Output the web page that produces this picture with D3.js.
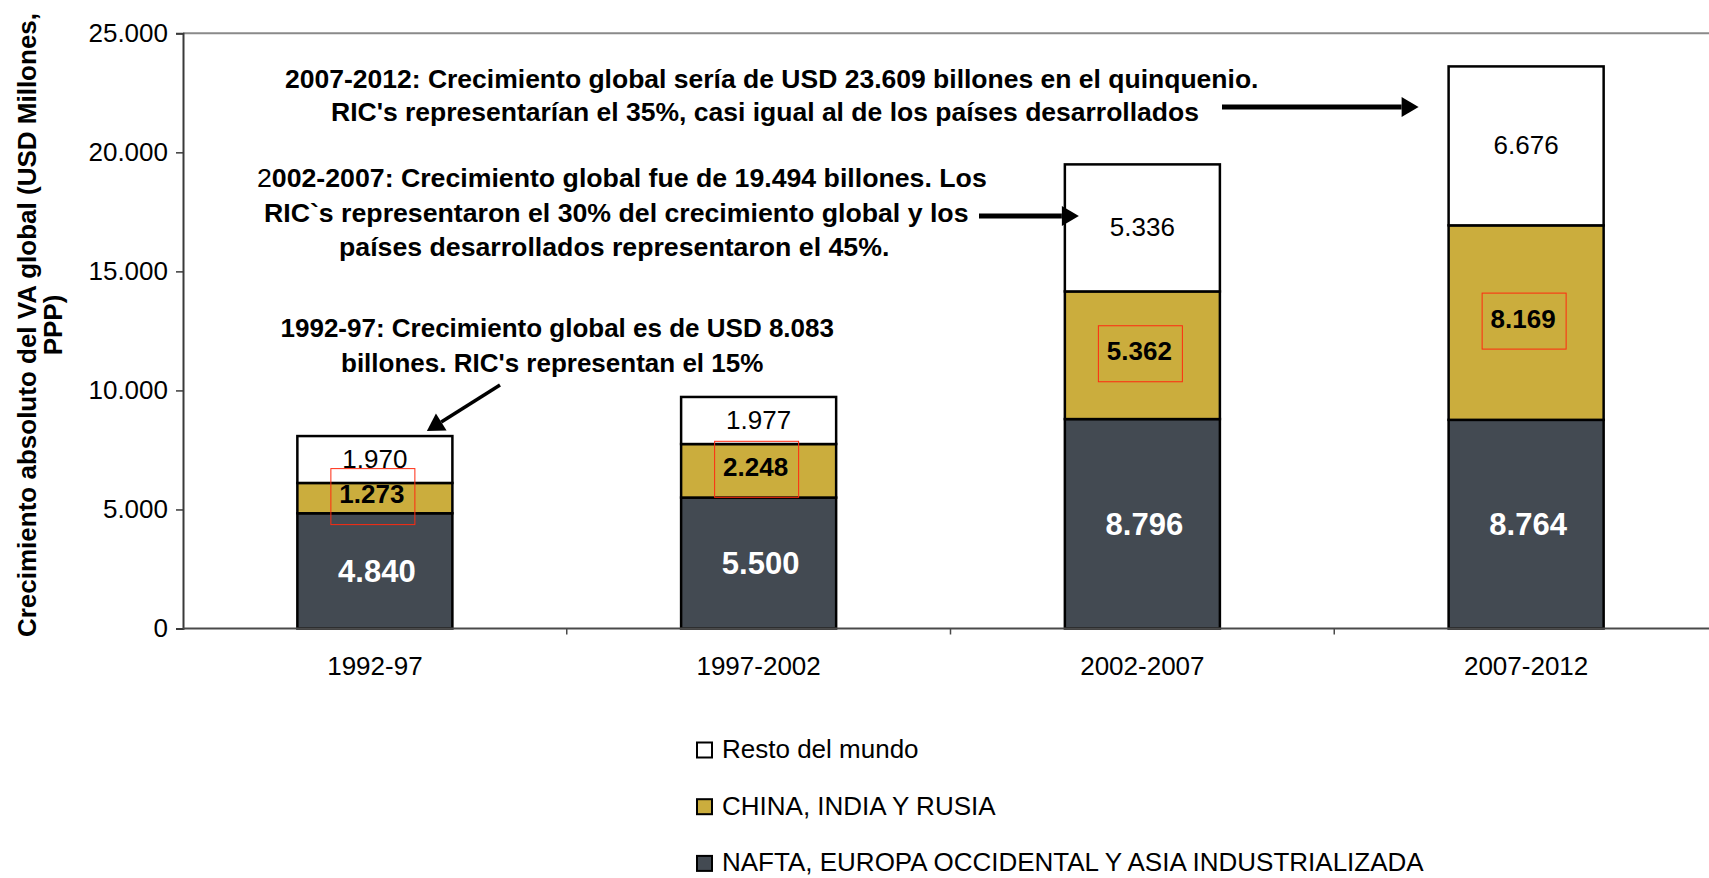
<!DOCTYPE html>
<html>
<head>
<meta charset="utf-8">
<script src="https://cdn.jsdelivr.net/npm/d3@7/dist/d3.min.js"></script>
<style>
  html, body { margin: 0; padding: 0; background: #ffffff; }
  svg { display: block; font-family: "Liberation Sans", Arial, sans-serif; }
</style>
</head>
<body>
<svg id="chart" width="1709" height="878"></svg>
<script>
// Periods on the x axis
const categories = ["1992-97", "1997-2002", "2002-2007", "2007-2012"];

// Absolute growth of global value added by region (USD millions, PPP)
const naftaValues = [4840, 5500, 8796, 8764];
const ricValues   = [1273, 2248, 5362, 8169];
const restoValues = [1970, 1977, 5336, 6676];

const seriesKeys   = ["nafta", "ric", "resto"];
const seriesLabels = ["NAFTA, EUROPA OCCIDENTAL Y ASIA INDUSTRIALIZADA", "CHINA, INDIA Y RUSIA", "Resto del mundo"];
const seriesColors = ["#434a52", "#cbad3d", "#ffffff"];

const yTicks = [0, 5000, 10000, 15000, 20000, 25000];

const yTitle = ["Crecimiento absoluto del VA global (USD Millones,", "PPP)"];

const notes2012 = [
  "2007-2012: Crecimiento global sería de USD 23.609 billones en el quinquenio.",
  "RIC's representarían el 35%, casi igual al de los países desarrollados"
];
const notes2007 = [
  "2002-2007: Crecimiento global fue de 19.494 billones. Los",
  "RIC`s representaron el 30% del crecimiento global y los",
  "países desarrollados representaron el 45%."
];
const notes1997 = [
  "1992-97: Crecimiento global es de USD 8.083",
  "billones. RIC's representan el 15%"
];

// ---------------------------------------------------------------
const rows = categories.map((c, i) => ({
  cat: c, nafta: naftaValues[i], ric: ricValues[i], resto: restoValues[i]
}));

const svg = d3.select("#chart");
const FONT = 26;

const locale = d3.formatLocale({ decimal: ",", thousands: ".", grouping: [3], currency: ["", ""] });
const fmt = locale.format(",");

const x = d3.scaleBand().domain(categories).range([183, 1718]).paddingInner(0).paddingOuter(0);
const y = d3.scaleLinear().domain([0, 25000]).range([628.5, 33.3]);
const barW = x.bandwidth() * 0.404;
const barX = c => x(c) + (x.bandwidth() - barW) / 2;
const mid = c => x(c) + x.bandwidth() / 2;

const stack = d3.stack().keys(seriesKeys)(rows);

// top frame line of the plot area
svg.append("line")
  .attr("x1", x.range()[0]).attr("x2", 1709)
  .attr("y1", y(25000)).attr("y2", y(25000))
  .attr("stroke", "#8a8a8a").attr("stroke-width", 2);

// stacked bars
const layers = svg.append("g").selectAll("g")
  .data(stack).join("g")
  .attr("fill", (d, i) => seriesColors[i]);

layers.selectAll("rect")
  .data(d => d.map(s => ({ s, cat: s.data.cat })))
  .join("rect")
  .attr("x", d => barX(d.cat))
  .attr("width", barW)
  .attr("y", d => y(d.s[1]))
  .attr("height", d => y(d.s[0]) - y(d.s[1]))
  .attr("stroke", "#000")
  .attr("stroke-width", 2.5);

// Y axis
const yAxis = svg.append("g")
  .attr("transform", `translate(${x.range()[0]},0)`)
  .call(d3.axisLeft(y).tickValues(yTicks).tickSize(7).tickPadding(8)
    .tickFormat(d => fmt(d)));
yAxis.select(".domain").attr("stroke", "#3a3a3a").attr("stroke-width", 2);
yAxis.selectAll(".tick line").attr("stroke", "#3a3a3a").attr("stroke-width", 1.5);
yAxis.selectAll("text").attr("font-size", FONT).attr("fill", "#000")
  .attr("font-family", "Liberation Sans, Arial, sans-serif");

// X axis
const xAxis = svg.append("g")
  .attr("transform", `translate(0,${y(0)})`)
  .call(d3.axisBottom(x).tickSize(0).tickPadding(28));
xAxis.select(".domain").remove();
xAxis.selectAll("text").attr("font-size", FONT).attr("fill", "#000")
  .attr("font-family", "Liberation Sans, Arial, sans-serif");
svg.append("line")
  .attr("x1", x.range()[0]).attr("x2", 1709)
  .attr("y1", y(0)).attr("y2", y(0))
  .attr("stroke", "#4a4a4a").attr("stroke-width", 2);
svg.append("g").selectAll("line")
  .data(categories.slice(1))
  .join("line")
  .attr("x1", c => x(c)).attr("x2", c => x(c))
  .attr("y1", y(0)).attr("y2", y(0) + 6)
  .attr("stroke", "#4a4a4a").attr("stroke-width", 1.5);

// value labels
const labels = svg.append("g").attr("text-anchor", "middle");
rows.forEach(r => {
  const cx = mid(r.cat);
  const n0 = 0, n1 = r.nafta;
  const c0 = n1, c1 = n1 + r.ric;
  const w0 = c1, w1 = c1 + r.resto;

  labels.append("text")
    .attr("x", cx + 2).attr("y", y((n0 + n1) / 2) + 11)
    .attr("font-size", 31).attr("font-weight", "bold").attr("fill", "#fff")
    .text(fmt(r.nafta));

  const cm = y((c0 + c1) / 2);
  labels.append("rect")
    .attr("x", cx - 2 - 42).attr("y", cm - 1.5 - 28)
    .attr("width", 84).attr("height", 56)
    .attr("fill", "none").attr("stroke", "#ff2a10").attr("stroke-width", 1);
  labels.append("text")
    .attr("x", cx - 3).attr("y", cm + 5)
    .attr("font-size", FONT).attr("font-weight", "bold").attr("fill", "#000")
    .text(fmt(r.ric));

  labels.append("text")
    .attr("x", cx).attr("y", y((w0 + w1) / 2) + 8)
    .attr("font-size", FONT).attr("fill", "#000")
    .text(fmt(r.resto));
});

// Y axis title
const yt = svg.append("g").attr("font-size", FONT).attr("font-weight", "bold").attr("text-anchor", "middle");
yt.append("text").attr("transform", "translate(36,325) rotate(-90)").text(yTitle[0]);
yt.append("text").attr("transform", "translate(62,325) rotate(-90)").text(yTitle[1]);

// annotations
const ann = svg.append("g").attr("font-weight", "bold").attr("fill", "#000");
const place = (lines, xs, ys, size) => lines.forEach((t, i) =>
  ann.append("text").attr("x", xs[i]).attr("y", ys[i]).attr("font-size", size).text(t));

place(notes2012, [285, 331], [88, 121], 26.5);
// first line of 2002-2007 note: leading digit set in regular weight
const l0 = ann.append("text").attr("x", 257).attr("y", 187).attr("font-size", 26.7);
l0.append("tspan").attr("font-weight", "normal").text(notes2007[0].slice(0, 1));
l0.append("tspan").text(notes2007[0].slice(1));
place(notes2007.slice(1), [264, 339], [222, 256], 26.7);
place(notes1997, [280.5, 341], [336.5, 372], FONT);

// arrows
function arrow(x1, y1, x2, y2, w) {
  const a = Math.atan2(y2 - y1, x2 - x1);
  const L = 17, H = 10;
  const bx = x2 - L * Math.cos(a), by = y2 - L * Math.sin(a);
  svg.append("line")
    .attr("x1", x1).attr("y1", y1).attr("x2", bx).attr("y2", by)
    .attr("stroke", "#000").attr("stroke-width", w);
  const px = -Math.sin(a) * H, py = Math.cos(a) * H;
  svg.append("path")
    .attr("d", `M${x2},${y2}L${bx + px},${by + py}L${bx - px},${by - py}Z`)
    .attr("fill", "#000");
}
const b4 = barX(categories[3]);
const b3 = barX(categories[2]);
arrow(1222, 107, b4 - 30, 107, 5);
arrow(979, 216, b3 + 14, 216, 5);
arrow(500, 385, mid(categories[0]) + 52, y(rows[0].nafta + rows[0].ric + rows[0].resto) - 5, 3.5);

// legend
const legend = svg.append("g").attr("font-size", FONT);
[2, 1, 0].forEach((k, i) => {
  const gy = 758 + i * 56.7;
  legend.append("rect")
    .attr("x", 697).attr("y", gy - 15.5).attr("width", 15).attr("height", 15)
    .attr("fill", seriesColors[k]).attr("stroke", "#000").attr("stroke-width", 2);
  legend.append("text").attr("x", 722).attr("y", gy).text(seriesLabels[k]);
});
</script>
</body>
</html>
